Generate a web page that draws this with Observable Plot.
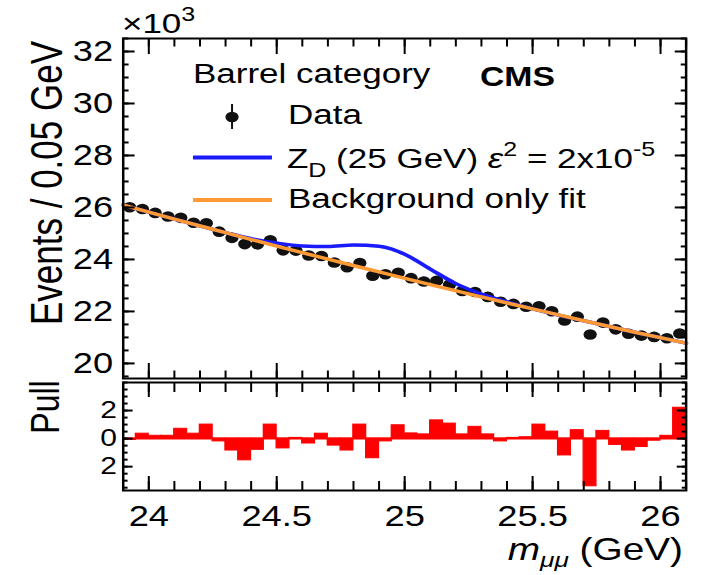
<!DOCTYPE html>
<html>
<head>
<meta charset="utf-8">
<script src="https://cdn.jsdelivr.net/npm/d3@7"></script>
<script src="https://cdn.jsdelivr.net/npm/@observablehq/plot@0.6"></script>
<style>
  html, body { margin: 0; padding: 0; background: #fff; overflow: hidden; }
  #stage { position: relative; width: 574px; height: 575px; transform: scaleX(1.2509); transform-origin: 0 0;
           font-family: "Liberation Sans", Arial, Helvetica, sans-serif; }
  #topPanel { position: absolute; left: 0; top: 0; }
  #pullPanel { position: absolute; left: 0; top: 380px; }
  #overlay { position: absolute; left: 0; top: 0; pointer-events: none; }
  #overlay text { white-space: pre; }
</style>
</head>
<body>
<div id="stage">
  <div id="topPanel"></div>
  <div id="pullPanel"></div>
  <svg id="overlay" width="574" height="575" font-family="Liberation Sans, Arial, Helvetica, sans-serif" fill="#000">
    <text x="97.5" y="33" font-size="28">×10<tspan font-size="20" dy="-12">3</tspan></text>
    <text transform="translate(37,183) rotate(-90)" text-anchor="middle" dominant-baseline="central" font-size="35">Events / 0.05 GeV</text>
    <text transform="translate(36,407) rotate(-90)" text-anchor="middle" dominant-baseline="central" font-size="32">Pull</text>
    <text x="154.3" y="83" font-size="28">Barrel category</text>
    <text x="383.7" y="86" font-size="27" font-weight="bold">CMS</text>
    <line x1="185.5" x2="185.5" y1="104" y2="129" stroke="#111" stroke-width="1.6"></line>
    <circle cx="185.5" cy="117" r="5.3" fill="#111"></circle>
    <text x="230.2" y="124" font-size="28">Data</text>
    <line x1="154.3" x2="217.4" y1="157.5" y2="157.5" stroke="#1a1aff" stroke-width="4"></line>
    <text x="229.4" y="168" font-size="28">Z<tspan font-size="20" dy="9">D</tspan><tspan dy="-9"> (25 GeV) </tspan><tspan font-style="italic">ε</tspan><tspan font-size="20" dy="-12">2</tspan><tspan dy="12"> = 2x10</tspan><tspan font-size="20" dy="-12">-5</tspan></text>
    <line x1="154.3" x2="217.4" y1="200" y2="200" stroke="#ff9933" stroke-width="4"></line>
    <text x="230.2" y="208" font-size="28">Background only fit</text>
    <text x="546" y="560" text-anchor="end" font-size="31"><tspan font-style="italic">m</tspan><tspan font-size="21" dy="7" font-style="italic">μμ</tspan><tspan dy="-7"> (GeV)</tspan></text>
  </svg>
</div>
<script>
// ---- data ----
const massBins = [23.925, 23.975, 24.025, 24.075, 24.125, 24.175, 24.225, 24.275, 24.325, 24.375,
  24.425, 24.475, 24.525, 24.575, 24.625, 24.675, 24.725, 24.775, 24.825, 24.875,
  24.925, 24.975, 25.025, 25.075, 25.125, 25.175, 25.225, 25.275, 25.325, 25.375,
  25.425, 25.475, 25.525, 25.575, 25.625, 25.675, 25.725, 25.775, 25.825, 25.875,
  25.925, 25.975, 26.025, 26.075];
const binHalfWidth = 0.025;
const eventsK = [26.01, 25.94, 25.79, 25.65, 25.60, 25.41, 25.39, 25.07, 24.83, 24.59,
  24.58, 24.74, 24.35, 24.34, 24.15, 24.13, 23.88, 23.70, 23.86, 23.37,
  23.43, 23.49, 23.28, 23.15, 23.18, 23.03, 22.79, 22.75, 22.56, 22.37,
  22.29, 22.18, 22.20, 22.01, 21.65, 21.80, 21.11, 21.57, 21.31, 21.14,
  21.07, 21.02, 20.97, 21.15];
const pulls = [-0.1, 0.35, 0.2, 0.2, 0.7, 0.35, 1.0, -0.2, -0.85, -1.55,
  -0.8, 1.0, -0.7, 0.05, -0.35, 0.35, -0.5, -0.85, 1.0, -1.4,
  -0.2, 0.95, 0.37, 0.3, 1.3, 1.07, 0.3, 0.84, 0.3, -0.2,
  0.05, 0.1, 1.0, 0.5, -1.2, 0.6, -3.4, 0.55, -0.45, -0.85,
  -0.6, -0.15, 0.2, 2.2];
const fitMass = [23.9, 24.1, 24.3, 24.5, 24.7, 24.9, 25.1, 25.3, 25.5, 25.7, 25.9, 26.1];
const fitCurve = [26.09, 25.55, 25.03, 24.51, 24.01, 23.52, 23.03, 22.56, 22.10, 21.64, 21.20, 20.78];
const zdMass = [23.9, 24.1, 24.3, 24.4, 24.5, 24.6, 24.7, 24.8, 24.9, 24.95, 25.0, 25.1, 25.2, 25.3, 25.4, 25.5, 25.7, 25.9, 26.1];
const zdCurve = [26.09, 25.55, 25.03, 24.80, 24.63, 24.52, 24.50, 24.56, 24.51, 24.40, 24.20, 23.63, 23.07, 22.67, 22.37, 22.10, 21.64, 21.20, 20.78];
const yTickLabels = [20, 22, 24, 26, 28, 30, 32];
const xTickLabels = [24, 24.5, 25, 25.5, 26];
const pullTickLabels = [-2, 0, 2];

// ---- layout ----
const W = 574, ML = 98, MR = 26;
const xDomain = [23.9, 26.1];
const font = "'Liberation Sans', Arial, Helvetica, sans-serif";

const rows = massBins.map((m, i) => ({m, n: eventsK[i], pull: pulls[i], lo: m - binHalfWidth, hi: m + binHalfWidth}));
const sig = zdMass.map((m, i) => ({m, v: zdCurve[i]}));
const bkg = fitMass.map((m, i) => ({m, v: fitCurve[i]}));

const xMinor = d3.range(24.0, 26.1, 0.1).map(d => +d.toFixed(2));
const yMinor = d3.range(19.5, 32.6, 0.5);
const pullMinor = d3.range(-3.5, 4.01, 0.5);

function ticks(scale, anchor, values, size, sw) {
  const o = {anchor, tickSize: -size, fill: "none", stroke: "black", strokeWidth: sw, label: null};
  return scale === "x" ? Plot.axisX(values, o) : Plot.axisY(values, o);
}

const topPlot = Plot.plot({
  width: W, height: 380, marginLeft: ML, marginRight: MR, marginTop: 38, marginBottom: 2,
  style: {fontFamily: font, background: "transparent", overflow: "visible", color: "black"},
  x: {domain: xDomain, axis: null},
  y: {domain: [19.42, 32.5], axis: null},
  marks: [
    Plot.dot(rows, {x: "m", y: "n", r: 5.3, fill: "#111"}),
    Plot.line(sig, {x: "m", y: "v", stroke: "#1a1aff", strokeWidth: 3.5, curve: "monotone-x"}),
    Plot.line(bkg, {x: "m", y: "v", stroke: "#ff9933", strokeWidth: 3.5, curve: "monotone-x"}),
    Plot.frame({stroke: "black", strokeWidth: 2}),
    ticks("x", "top", xMinor, 7.5, 1.6),
    ticks("x", "top", xTickLabels, 15, 1.6),
    ticks("x", "bottom", xMinor, 7.5, 1.6),
    ticks("x", "bottom", xTickLabels, 15, 1.6),
    ticks("y", "left", yMinor, 4.8, 2),
    ticks("y", "left", yTickLabels, 9.6, 2),
    ticks("y", "right", yMinor, 4.8, 2),
    ticks("y", "right", yTickLabels, 9.6, 2),
    Plot.axisY(yTickLabels, {anchor: "left", tickSize: 0, tickPadding: 8, fontSize: 29, tickFormat: d => String(d), label: null, fill: "black"})
  ]
});
document.getElementById("topPanel").appendChild(topPlot);

const pullPlot = Plot.plot({
  width: W, height: 172, marginLeft: ML, marginRight: MR, marginTop: 2, marginBottom: 62,
  style: {fontFamily: font, background: "transparent", overflow: "visible", color: "black"},
  x: {domain: xDomain, axis: null},
  y: {domain: [-3.7, 4.0], axis: null},
  marks: [
    Plot.rectY(rows, {x1: "lo", x2: "hi", y1: 0, y2: "pull", fill: "#ff0000", stroke: "#ff0000", strokeWidth: 1}),
    Plot.ruleY([0], {stroke: "#ff0000", strokeWidth: 2}),
    Plot.frame({stroke: "black", strokeWidth: 2}),
    ticks("x", "top", xMinor, 9, 1.6),
    ticks("x", "top", xTickLabels, 14, 1.6),
    ticks("x", "bottom", xMinor, 9, 1.6),
    ticks("x", "bottom", xTickLabels, 14, 1.6),
    ticks("y", "left", pullMinor, 4, 2),
    ticks("y", "left", pullTickLabels, 8, 2),
    ticks("y", "right", pullMinor, 4, 2),
    ticks("y", "right", pullTickLabels, 8, 2),
    Plot.axisY(pullTickLabels, {anchor: "left", tickSize: 0, tickPadding: 5, fontSize: 24, tickFormat: d => String(Math.abs(d)), label: null, fill: "black"}),
    Plot.axisX(xTickLabels, {anchor: "bottom", tickSize: 0, tickPadding: 15, fontSize: 29, tickFormat: d => String(d), label: null, fill: "black"})
  ]
});
document.getElementById("pullPanel").appendChild(pullPlot);
</script>
</body>
</html>
